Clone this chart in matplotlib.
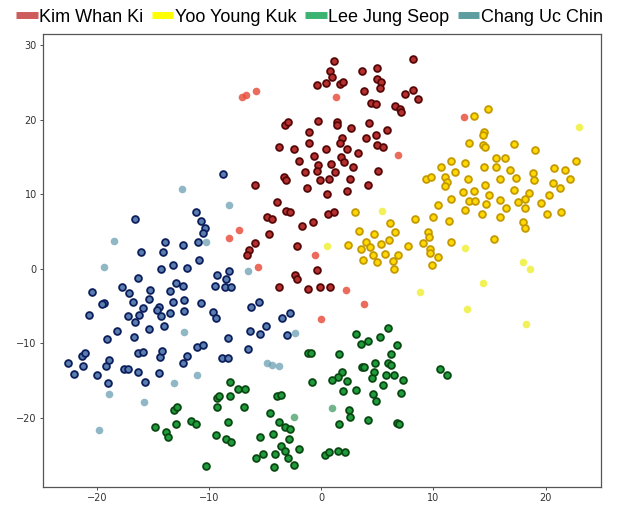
import matplotlib
matplotlib.use("Agg")
import matplotlib.pyplot as plt
from matplotlib.lines import Line2D

# =========================
# DATA (t-SNE style embedding)
# =========================
# Kim Whan Ki - outlined points
kim_x = [1.1, 0.8, 0.95, 0.4, -0.35, 1.7, 1.9, 3.6, 5.0, 5.0, 5.3, 5.2, 3.85, 4.4, 4.85, 6.55, 7.05, 7.1, 7.45, 8.2, 8.2, 8.6,
         -3.2, -2.95, -0.3, -1.05, 1.4, 1.45, 2.65, 4.3, 5.9,
         -3.8, -2.45, -1.05, 0.4, 1.85, 1.7, 2.3, 4.0, 4.85, 5.0, 5.55, 3.25,
         -2.0, -0.6, 1.8, 2.05, 0.85, -0.25, -0.4, -1.45, 2.8, 1.2, 5.1,
         -3.35, -3.1, -0.1, 0.7, 2.6, 4.2, -5.9,
         -1.25, 0.55, 2.3, -3.9, -3.1, -2.8, -4.85, -4.4, -1.7, -0.75, 0.6, 1.15, -4.65, -5.9, -6.4, -6.6,
         -2.2, -0.4, -2.3, -2.15, -3.8, -1.2, -0.1, 0.75]
kim_y = [27.9, 26.6, 25.7, 24.9, 24.6, 24.8, 25.0, 26.5, 27.0, 25.5, 25.0, 24.3, 23.8, 22.2, 22.1, 21.9, 21.5, 21.05, 23.5, 28.2, 24.0, 22.8,
         19.35, 19.7, 19.8, 18.4, 19.7, 19.3, 18.9, 19.6, 18.6,
         16.3, 16.1, 16.9, 16.1, 17.6, 16.9, 16.1, 17.6, 18.0, 16.6, 16.4, 15.55,
         14.5, 15.1, 15.0, 14.3, 14.0, 13.9, 13.1, 13.0, 13.6, 13.0, 13.1,
         12.3, 11.9, 11.9, 12.0, 12.1, 11.3, 11.3,
         10.8, 10.0, 10.4, 8.9, 7.7, 7.6, 6.9, 6.7, 5.8, 6.3, 7.3, 7.6, 4.7, 3.4, 2.5, 1.9,
         3.1, -0.2, -0.8, -1.4, -2.5, -2.7, -2.4, -2.4]
# Kim Whan Ki - plain points
kim_plain_x = [-7.05, -6.7, -5.8, 1.3, 6.85, 12.75, -7.3, -8.25, -5.65, -0.55, 2.2, 3.8, -0.05]
kim_plain_y = [23.1, 23.3, 23.9, 23.1, 15.3, 20.3, 5.2, 4.1, 0.2, 1.9, -2.8, -4.7, -6.7]

# Yoo Young Kuk
yoo_x = [13.65, 14.85, 14.55, 14.45, 13.2, 14.4, 14.6, 17.15, 19.1, 15.55, 16.35, 11.6, 12.85, 10.7, 11.95, 14.55, 15.6,
         16.8, 17.35, 18.9, 19.0, 20.75, 21.7, 22.7, 22.2, 9.3, 9.75, 11.05, 13.1, 15.95, 14.6, 11.2, 11.05, 20.65,
         21.3, 12.6, 13.6, 15.0, 11.55, 10.4, 13.2, 13.7, 12.8, 14.65, 14.3, 15.95, 16.5, 15.9, 17.2, 17.55, 18.2,
         18.5, 18.2, 19.6, 20.35, 20.1, 21.35, 17.95, 18.2, 15.45, 8.35, 10.0, 11.35, 9.5, 9.6, 9.1, 9.7, 9.7, 10.4,
         9.9, 11.6,
         3.05, 3.35, 2.35, 4.7, 4.0, 3.55, 4.35, 5.3, 6.05, 6.1, 6.6, 4.65, 5.0, 5.7, 3.7, 6.4, 6.85, 6.45, 7.7]
yoo_y = [20.5, 21.4, 18.3, 18.0, 16.9, 16.6, 16.4, 16.7, 16.0, 14.8, 14.8, 14.5, 14.25, 13.6, 13.0, 13.6, 13.6,
         13.2, 12.2, 12.8, 11.9, 13.5, 13.2, 14.4, 12.0, 12.0, 12.3, 12.3, 12.1, 12.1, 11.3, 11.6, 11.1, 11.5,
         10.9, 10.3, 10.4, 9.9, 9.4, 8.5, 9.05, 9.05, 7.9, 8.7, 7.4, 9.2, 8.1, 7.0, 10.5, 8.9, 9.3,
         10.1, 8.2, 8.8, 9.9, 7.3, 7.6, 6.3, 5.4, 4.0, 6.7, 7.0, 6.4, 4.9, 4.3, 3.5, 2.7, 2.1, 1.6,
         0.5, 3.6,
         7.6, 5.1, 3.2, 4.6, 3.6, 2.6, 2.9, 3.3, 3.8, 6.1, 4.9, 1.8, 0.9, 2.0, 1.2, 1.05, 1.8, -0.1, 3.0]
yoo_plain_x = [22.95, 12.8, 17.95, 18.6, 14.4, 8.8, 13.0, 18.3, 0.5, 5.4]
yoo_plain_y = [19.0, 2.75, 0.9, -0.05, -1.9, -3.1, -5.4, -7.4, 3.1, 7.8]

# Lee Jung Seop
lee_x = [-14.8, -13.8, -13.7, -12.9, -13.15, -12.85, -11.6, -11.2, -10.3, -9.4, -9.25, -9.25, -9.15, -8.45, -8.35,
         -8.15, -8.1,
         3.1, 5.25, 5.95, 3.55, 4.2, 6.8, -1.15, -0.95, 1.55, 6.2, 3.6, 3.85, 4.8, 5.95, 6.2, 4.7, 5.8, 6.45, 7.25,
         4.5, 1.85, 1.5, 1.0, 2.3, -0.85, -7.45, -6.75, 1.95, 3.1, 4.6, 4.85, 5.55, 7.15, -3.9, -3.6, -6.85, -8.0,
         -4.6, -3.8, -3.25, -2.8, -4.3, -2.9, -5.45, -3.6, -3.25, -1.95, -4.1, -5.2, -5.8, -3.0, -4.25, -2.4, 0.3,
         0.7, 1.5, 2.15, 2.5, 2.6, 1.55, 4.15, 6.8, 6.9,
         10.55, 11.25]
lee_y = [-21.2, -21.9, -22.6, -20.9, -19.0, -18.5, -20.5, -20.8, -26.5, -22.3, -17.4, -18.5, -17.1, -22.9, -20.6,
         -15.2, -17.15,
         -8.8, -9.1, -8.0, -10.1, -9.7, -10.2, -11.25, -11.3, -11.5, -11.5, -13.2, -13.2, -12.6, -12.6, -12.9, -13.9,
         -14.2, -14.2, -14.9,
         -14.7, -13.9, -14.5, -14.9, -15.1, -15.2, -16.2, -16.2, -16.4, -16.3, -16.8, -17.7, -15.6, -16.7, -17.1,
         -17.0, -18.6, -23.3,
         -19.3, -20.6, -21.2, -21.5, -22.2, -22.9, -22.6, -23.8, -24.4, -24.2, -24.9, -24.9, -25.4, -25.4, -26.6,
         -26.3, -25.0,
         -24.6, -24.5, -24.6, -18.9, -19.9, -20.8, -20.3, -20.7, -20.9,
         -13.5, -14.2]
lee_plain_x = [-2.45, 1.0]
lee_plain_y = [-19.9, -18.7]

# Chang Uc Chin
chang_x = [-8.75,
           -16.6, -11.15, -10.7, -10.4, -10.5, -10.95, -12.35, -13.9, -16.05, -14.1, -10.85, -13.25, -11.95, -14.3,
           -16.35, -20.45, -17.75, -17.15, -15.25, -12.95, -12.35, -13.45, -15.35, -16.8, -19.4, -19.55, -20.7,
           -15.85, -16.25, -17.25, -16.6, -14.5, -14.65, -14.3, -13.45, -13.25, -12.25, -12.25, -10.75, -9.65, -9.35,
           -14.0, -15.35, -18.2, -9.25, -9.45, -8.2, -8.5, -8.6, -8.0,
           -6.3, -5.55, -3.45, -2.75, -6.35, -4.95, -3.05, -5.45,
           -19.1, -16.65, -22.6, -22.0, -21.35, -21.1, -21.2, -20.0, -19.2, -18.9, -19.0, -17.55, -17.25, -16.35,
           -15.85, -16.35, -15.75, -14.35, -14.15, -14.45, -12.35, -12.0, -11.05, -10.5, -8.85, -8.35, -8.35,
           -6.55]
chang_y = [12.7,
           6.7, 7.6, 6.4, 5.5, 4.8, 3.6, 3.2, 3.6, 2.3, 2.2, 1.2, 0.5, 0.15, -0.1,
           -1.3, -3.1, -2.5, -3.2, -2.9, -1.9, -2.3, -3.0, -4.1, -4.4, -4.6, -4.8, -6.2,
           -5.3, -6.2, -6.4, -7.1, -5.1, -5.6, -6.4, -6.0, -4.5, -4.2, -5.7, -4.6, -5.8, -6.6,
           -7.7, -8.1, -8.4, -0.8, -2.35, -0.3, -1.4, -2.45, -2.5,
           -5.1, -4.45, -6.55, -6.0, -8.3, -7.7, -8.9, -8.8,
           -9.5, -9.2, -12.6, -14.1, -11.75, -11.3, -13.1, -14.3, -13.0, -12.3, -15.3, -13.5, -13.5, -11.3,
           -11.2, -13.8, -15.2, -11.8, -11.1, -14.0, -12.7, -11.7, -10.5, -10.2, -12.0, -12.0, -9.3,
           -10.8]
chang_plain_x = [-12.4, -8.2, -18.45, -19.4, -10.3, -12.2, -6.55, -2.3, -18.9, -15.8, -13.15, -11.1, -19.8,
                 -4.85, -4.4, -3.8]
chang_plain_y = [10.7, 8.5, 3.7, 0.25, 3.6, -8.5, -0.3, -8.65, -16.8, -17.95, -15.3, -14.2, -21.6,
                 -12.6, -12.95, -13.1]

names = ["Kim Whan Ki", "Yoo Young Kuk", "Lee Jung Seop", "Chang Uc Chin"]
legend_colors = ["indianred", "yellow", "mediumseagreen", "cadetblue"]

# =========================
# STYLES
# =========================
outlined = [
    (kim_x, kim_y, "#b5302e", "#550707"),
    (yoo_x, yoo_y, "#ffd900", "#c49800"),
    (lee_x, lee_y, "#1f9c3d", "#0a4812"),
    (chang_x, chang_y, "#5a7eb0", "#0c1e5c"),
]
plain = [
    (kim_plain_x, kim_plain_y, "#e8513f", 0.85),
    (yoo_plain_x, yoo_plain_y, "#eeee30", 0.8),
    (lee_plain_x, lee_plain_y, "#4fa26e", 0.8),
    (chang_plain_x, chang_plain_y, "#6b9fb2", 0.75),
]

# =========================
# FIGURE
# =========================
fig = plt.figure(figsize=(6.19, 5.07), dpi=100)
ax = fig.add_axes([0.0695, 0.0394, 0.9015, 0.8935])

for x, y, col, a in plain:
    ax.scatter(x, y, s=30, color=col, alpha=a, linewidths=0, zorder=2)

for x, y, face, edge in outlined:
    ax.scatter(x, y, s=24, facecolor=face, edgecolor=edge, linewidths=1.3, zorder=3)

ax.set_xlim(-24.8, 24.95)
ax.set_ylim(-29.3, 31.5)
ax.set_xticks([-20, -10, 0, 10, 20])
ax.set_yticks([-20, -10, 0, 10, 20, 30])
ax.tick_params(labelsize=7, length=2.5, width=0.6, pad=2, colors="#333333")
for sp in ax.spines.values():
    sp.set_color("#555555")
    sp.set_linewidth(0.9)

# =========================
# LEGEND
# =========================
handles = [Line2D([0], [0], color=c, lw=5, solid_capstyle="butt") for c in legend_colors]
fig.legend(
    handles, names,
    loc="center", bbox_to_anchor=(0.5, 0.966), ncol=4, frameon=False,
    prop={"family": "Liberation Sans", "size": 13},
    handlelength=1.2, handletextpad=0.1, columnspacing=0.45, borderaxespad=0, borderpad=0,
)

fig.savefig("out.png", dpi=100)
